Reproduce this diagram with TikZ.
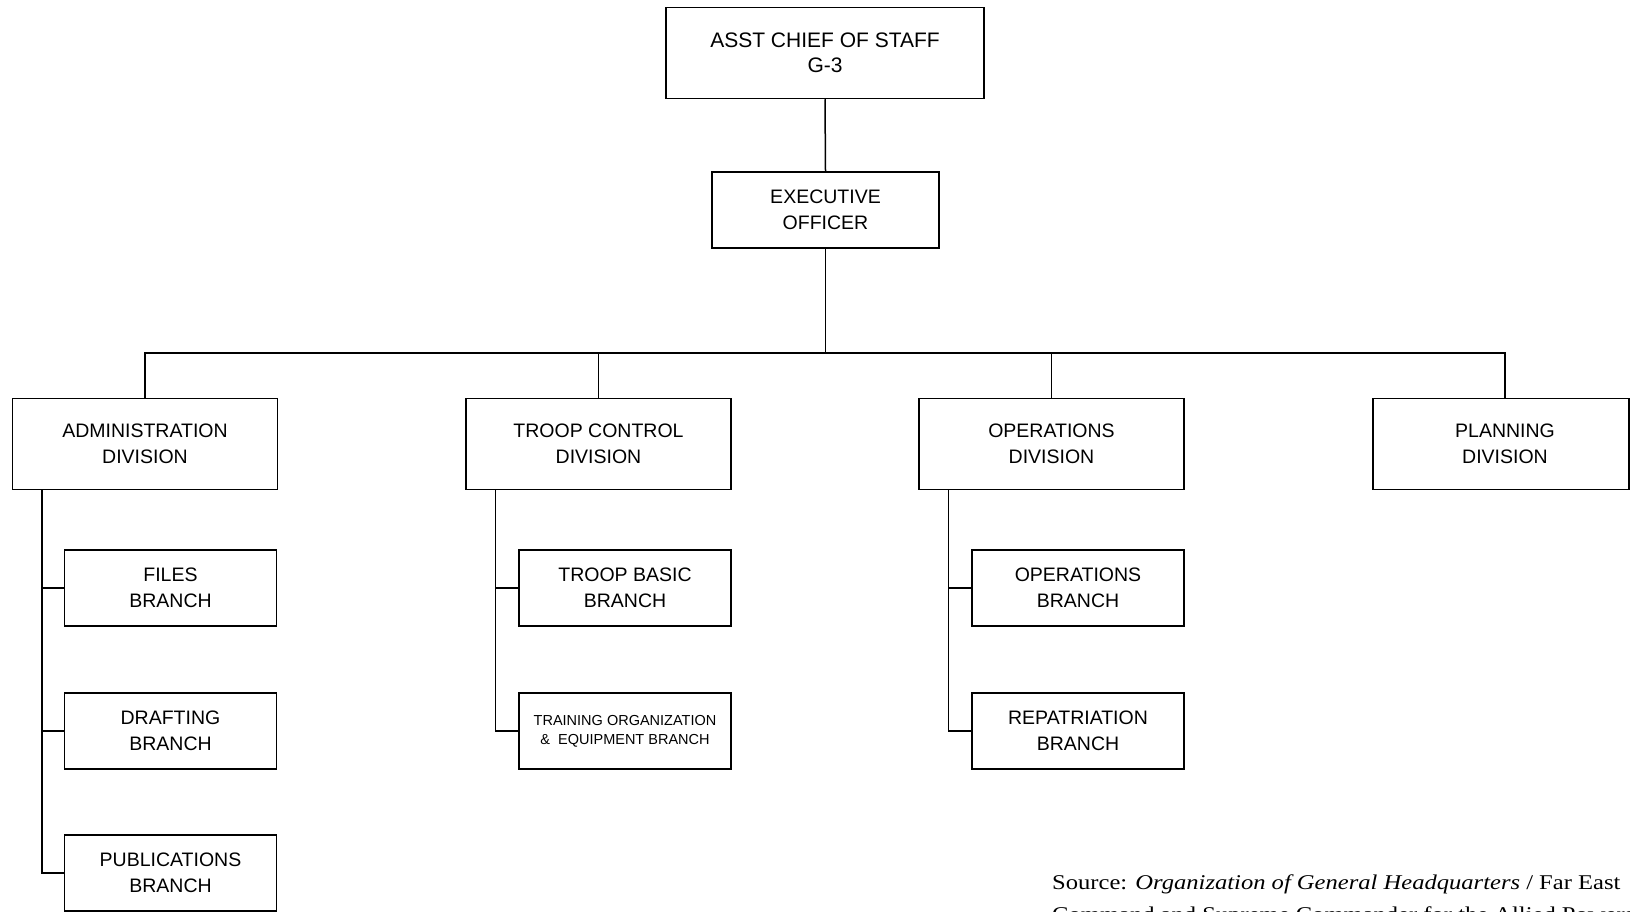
\documentclass[tikz,border=0pt]{standalone}
\usepackage{fontspec}
\setmainfont{Liberation Serif}[FakeStretch=1.17]
\newfontfamily\boxfont{Liberation Sans}
\begin{document}
\begin{tikzpicture}[x=1pt,y=-1pt,
  box/.style={draw=black,line width=1.5pt,fill=white,align=center,inner sep=0pt,
    font=\boxfont\fontsize{19.5}{25.5}\selectfont},
  divbox/.style={box,minimum width=265pt,minimum height=91pt},
  brbox/.style={box,minimum width=212pt,minimum height=76pt},
  conn/.style={line width=1.5pt,draw=black},
  src/.style={font=\fontsize{21}{32}\selectfont,inner sep=0pt,anchor=base west}]
\useasboundingbox (0,0) rectangle (1630,912);
% top
\node[box,minimum width=318pt,minimum height=91pt,font=\boxfont\fontsize{21}{25}\selectfont] (acs) at (825,53) {ASST CHIEF OF STAFF\\G-3};
\node[box,minimum width=227pt,minimum height=76pt] (exo) at (825.5,210) {EXECUTIVE\\OFFICER};
% divisions
\node[divbox] (adm) at (145,444) {ADMINISTRATION\\DIVISION};
\node[divbox] (trc) at (598.5,444) {TROOP CONTROL\\DIVISION};
\node[divbox] (ops) at (1051.5,444) {OPERATIONS\\DIVISION};
\node[divbox,minimum width=256pt] (pln) at (1501,444) {\hspace*{8pt}PLANNING\\\hspace*{8pt}DIVISION};
% branches
\node[brbox] (fil) at (170.5,588) {FILES\\BRANCH};
\node[brbox] (drf) at (170.5,731) {DRAFTING\\BRANCH};
\node[brbox] (pub) at (170.5,873) {PUBLICATIONS\\BRANCH};
\node[brbox] (tbb) at (625,588) {TROOP BASIC\\BRANCH};
\node[brbox,font=\boxfont\fontsize{14.5}{19}\selectfont] (toe) at (625,731) {TRAINING ORGANIZATION\\\&\ \ EQUIPMENT BRANCH};
\node[brbox] (opb) at (1078,588) {OPERATIONS\\BRANCH};
\node[brbox] (rep) at (1078,731) {REPATRIATION\\BRANCH};
% connectors
\coordinate (bar) at (825.5,353);
\draw[conn] (acs.south) -- (exo.north);
\draw[conn] (exo.south) -- (bar);
\draw[conn] (bar) -| (adm.north);
\draw[conn] (bar) -| (trc.north);
\draw[conn] (bar) -| (ops.north);
\draw[conn] (bar) -| ([xshift=4pt]pln.north);
\draw[conn] ([xshift=30pt]adm.south west) |- (pub.west);
\draw[conn] ([xshift=30pt]adm.south west) |- (fil.west);
\draw[conn] ([xshift=30pt]adm.south west) |- (drf.west);
\draw[conn] ([xshift=30pt]trc.south west) |- (toe.west);
\draw[conn] ([xshift=30pt]trc.south west) |- (tbb.west);
\draw[conn] ([xshift=30pt]ops.south west) |- (rep.west);
\draw[conn] ([xshift=30pt]ops.south west) |- (opb.west);
% source
\node[src] (s1) at (1052,889) {Source: \textit{Organization of General Headquarters} / Far East};
\node[src] (s2) at (1052,921) {Command and Supreme Commander for the Allied Powers};
\end{tikzpicture}
\end{document}
